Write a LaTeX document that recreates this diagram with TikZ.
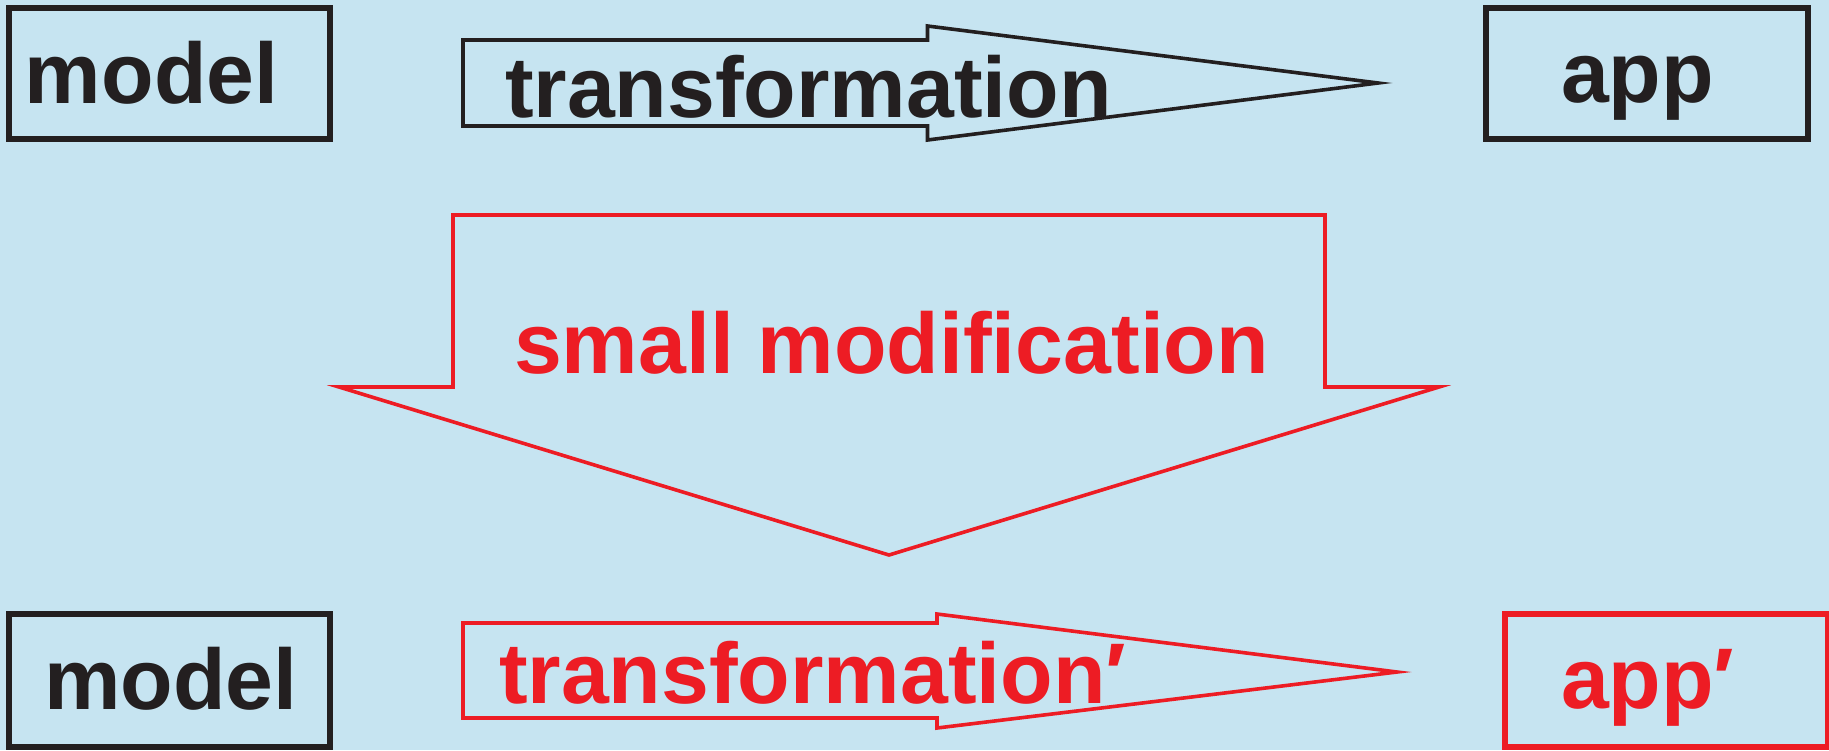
\documentclass[tikz,border=0pt]{standalone}
\usepackage{fontspec}
\setmainfont{Liberation Sans}
\definecolor{bg}{HTML}{C6E4F1}
\definecolor{ink}{HTML}{231F20}
\definecolor{hot}{HTML}{ED1C24}
\begin{document}
\begin{tikzpicture}[x=0.5pt,y=-0.5pt,
  lbl/.style={font=\fontsize{43}{50}\selectfont\bfseries, inner sep=0pt, outer sep=0pt, anchor=base west},
  box/.style={draw, line width=3pt, inner sep=0pt, outer sep=0pt, rectangle},
  blockarrow/.style={line width=1.8pt, line join=miter}]
\useasboundingbox[fill=bg] (0,0) rectangle (1829,750);
% boxes
\node[box, draw=ink, minimum width=160.5pt, minimum height=65.5pt] (model1) at (169.5,73.5) {};
\node[box, draw=ink, minimum width=161pt, minimum height=65.5pt] (app1) at (1647,73.5) {};
\node[box, draw=ink, minimum width=160.5pt, minimum height=66.5pt] (model2) at (169.5,680.5) {};
\node[box, draw=hot, minimum width=161.5pt, minimum height=66.5pt] (app2) at (1666.5,680.5) {};
% block arrows
\draw[blockarrow, draw=ink] (463,40) -- (927.5,40) -- (927.5,26) -- (1378,83) -- (927.5,140) -- (927.5,126) -- (463,126) -- cycle;
\draw[blockarrow, draw=hot] (453,215) -- (1325,215) -- (1325,387) -- (1439,387) -- (889,555) -- (339,387) -- (453,387) -- cycle;
\draw[blockarrow, draw=hot] (463,623) -- (937,623) -- (937,614) -- (1397,672) -- (937,728) -- (937,718) -- (463,718) -- cycle;
% labels
\node[lbl, text=ink] (t1) at (25,103) {model};
\node[lbl, text=ink] (t2) at (505,117) {transformation};
\node[lbl, text=ink] (t3) at (1561,102) {app};
\node[lbl, text=hot] (t4) at (514,373) {small modification};
\node[lbl, text=ink] (t5) at (44,709) {model};
\node[lbl, text=hot] (t6) at (499,703) {transformation′};
\node[lbl, text=hot] (t7) at (1561,708) {app′};
\end{tikzpicture}
\end{document}
